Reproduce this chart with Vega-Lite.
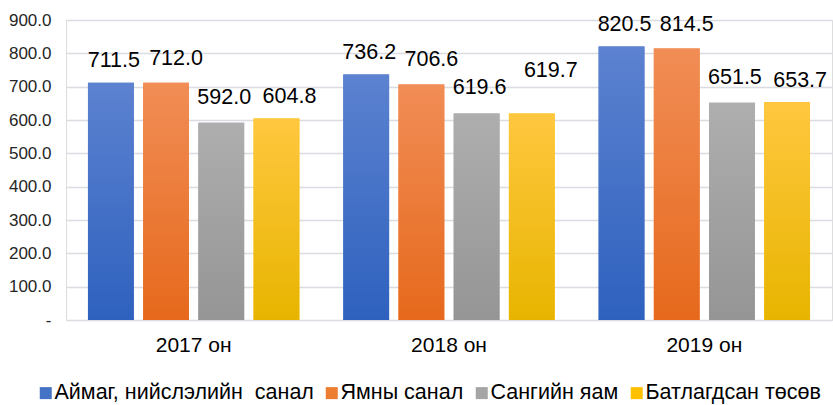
{
  "$schema": "https://vega.github.io/schema/vega-lite/v6.json",
  "width": 766,
  "height": 300,
  "autosize": {"type": "none"},
  "padding": {"left": 66, "top": 20, "right": 1, "bottom": 85},
  "background": "white",
  "data": {
    "values": [
      {"year": "2017 он", "series": "Аймаг, нийслэлийн  санал", "value": 711.5},
      {"year": "2017 он", "series": "Ямны санал", "value": 712.0},
      {"year": "2017 он", "series": "Сангийн яам", "value": 592.0},
      {"year": "2017 он", "series": "Батлагдсан төсөв", "value": 604.8},
      {"year": "2018 он", "series": "Аймаг, нийслэлийн  санал", "value": 736.2},
      {"year": "2018 он", "series": "Ямны санал", "value": 706.6},
      {"year": "2018 он", "series": "Сангийн яам", "value": 619.6},
      {"year": "2018 он", "series": "Батлагдсан төсөв", "value": 619.7},
      {"year": "2019 он", "series": "Аймаг, нийслэлийн  санал", "value": 820.5},
      {"year": "2019 он", "series": "Ямны санал", "value": 814.5},
      {"year": "2019 он", "series": "Сангийн яам", "value": 651.5},
      {"year": "2019 он", "series": "Батлагдсан төсөв", "value": 653.7}
    ]
  },
  "encoding": {
    "x": {
      "field": "year", "type": "nominal",
      "scale": {"paddingInner": 0.172, "paddingOuter": 0.086},
      "axis": {"title": null, "domain": false, "ticks": false, "labelAngle": 0, "labelFontSize": 21, "labelFont": "Liberation Sans", "labelColor": "#000000", "labelPadding": 14, "grid": false}
    },
    "xOffset": {
      "field": "series", "type": "nominal",
      "scale": {"domain": ["Аймаг, нийслэлийн  санал", "Ямны санал", "Сангийн яам", "Батлагдсан төсөв"], "paddingInner": 0.17, "paddingOuter": 0}
    },
    "y": {
      "field": "value", "type": "quantitative",
      "scale": {"domain": [0, 900], "nice": false},
      "axis": {"title": null, "domain": false, "ticks": false, "values": [0, 100, 200, 300, 400, 500, 600, 700, 800, 900],
        "labelExpr": "datum.value == 0 ? '-' : format(datum.value, '.1f')",
        "labelFontSize": 17, "labelFont": "Liberation Sans", "labelColor": "#262626", "labelPadding": 15,
        "gridColor": "#D9DCE1", "gridWidth": 1.5}
    }
  },
  "layer": [
    {
      "mark": {"type": "bar"},
      "encoding": {
        "color": {
          "field": "series", "type": "nominal",
          "scale": {"domain": ["Аймаг, нийслэлийн  санал", "Ямны санал", "Сангийн яам", "Батлагдсан төсөв"], "range": ["#4472C4", "#ED7D31", "#A5A5A5", "#FFC000"]},
          "legend": {
            "title": null, "orient": "none", "direction": "horizontal", "legendX": -31, "legendY": 362,
            "symbolType": "square", "symbolSize": 144, "symbolStrokeWidth": 0, "labelFontSize": 21.5, "labelFont": "Liberation Sans",
            "labelColor": "#000000", "labelOffset": -2, "columnPadding": 7, "symbolOffset": 0, "labelLimit": 0,
            "labelExpr": "replace(datum.label, '  ', ' \u00a0')"
          }
        }
      }
    },
    {
      "transform": [{"filter": "datum.series == 'Аймаг, нийслэлийн  санал'"}],
      "mark": {"type": "bar", "color": {"gradient": "linear", "x1": 0, "y1": 0, "x2": 0, "y2": 1, "stops": [{"offset": 0, "color": "#5C82D0"}, {"offset": 1, "color": "#2E61BE"}]}}
    },
    {
      "transform": [{"filter": "datum.series == 'Ямны санал'"}],
      "mark": {"type": "bar", "color": {"gradient": "linear", "x1": 0, "y1": 0, "x2": 0, "y2": 1, "stops": [{"offset": 0, "color": "#F18D56"}, {"offset": 1, "color": "#E6691C"}]}}
    },
    {
      "transform": [{"filter": "datum.series == 'Сангийн яам'"}],
      "mark": {"type": "bar", "color": {"gradient": "linear", "x1": 0, "y1": 0, "x2": 0, "y2": 1, "stops": [{"offset": 0, "color": "#AEAEAE"}, {"offset": 1, "color": "#959595"}]}}
    },
    {
      "transform": [{"filter": "datum.series == 'Батлагдсан төсөв'"}],
      "mark": {"type": "bar", "color": {"gradient": "linear", "x1": 0, "y1": 0, "x2": 0, "y2": 1, "stops": [{"offset": 0, "color": "#FFC73F"}, {"offset": 1, "color": "#E7B500"}]}}
    },
    {
      "transform": [{"filter": "datum.series == 'Аймаг, нийслэлийн  санал'"}],
      "mark": {"type": "text", "baseline": "middle", "align": "center", "dy": -22, "dx": 3, "fontSize": 21.5, "font": "Liberation Sans", "color": "#000000"},
      "encoding": {"text": {"field": "value", "type": "quantitative", "format": ".1f"}}
    },
    {
      "transform": [{"filter": "datum.series == 'Ямны санал'"}],
      "mark": {"type": "text", "baseline": "middle", "align": "center", "dy": -24, "dx": 10, "fontSize": 21.5, "font": "Liberation Sans", "color": "#000000"},
      "encoding": {"text": {"field": "value", "type": "quantitative", "format": ".1f"}}
    },
    {
      "transform": [{"filter": "datum.series == 'Сангийн яам'"}],
      "mark": {"type": "text", "baseline": "middle", "align": "center", "dy": -25, "dx": 3, "fontSize": 21.5, "font": "Liberation Sans", "color": "#000000"},
      "encoding": {"text": {"field": "value", "type": "quantitative", "format": ".1f"}}
    },
    {
      "transform": [{"filter": "datum.series == 'Батлагдсан төсөв' && datum.year != '2018 он'"}],
      "mark": {"type": "text", "baseline": "middle", "align": "center", "dy": -21, "dx": 13, "fontSize": 21.5, "font": "Liberation Sans", "color": "#000000"},
      "encoding": {"text": {"field": "value", "type": "quantitative", "format": ".1f"}}
    },
    {
      "transform": [{"filter": "datum.series == 'Батлагдсан төсөв' && datum.year == '2018 он'"}],
      "mark": {"type": "text", "baseline": "middle", "align": "center", "dy": -42, "dx": 19, "fontSize": 21.5, "font": "Liberation Sans", "color": "#000000"},
      "encoding": {"text": {"field": "value", "type": "quantitative", "format": ".1f"}}
    }
  ]
}
